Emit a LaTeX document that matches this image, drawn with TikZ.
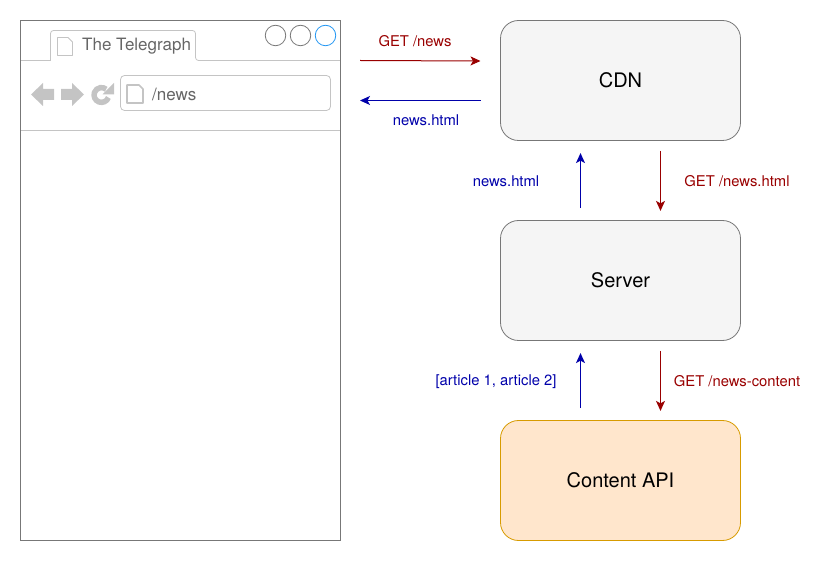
\documentclass[tikz,border=0pt]{standalone}
\usepackage{fontspec}
\setmainfont{TeX Gyre Heros}
\usetikzlibrary{arrows.meta}
\definecolor{boxgrey}{HTML}{F5F5F5}
\definecolor{boxline}{HTML}{777777}
\definecolor{orangefill}{HTML}{FFE6CC}
\definecolor{orangeline}{HTML}{D79B00}
\definecolor{uigrey}{HTML}{C4C4C4}
\definecolor{uitext}{HTML}{666666}
\definecolor{reqred}{HTML}{990000}
\definecolor{resblue}{HTML}{0000AA}
\definecolor{tabblue}{HTML}{2196F3}
\tikzset{
  x=1pt,y=-1pt,
  server/.style={draw=boxline,fill=boxgrey,rounded corners=18pt,minimum width=240pt,minimum height=120pt,inner sep=0pt,line width=0.8pt,font=\fontsize{20}{24}\selectfont,text=black},
  api/.style={server,draw=orangeline,fill=orangefill},
  req/.style={draw=reqred,line width=1pt,-{Stealth[length=10pt,width=9pt,inset=2.5pt]}},
  res/.style={draw=resblue,line width=1pt,-{Stealth[length=10pt,width=9pt,inset=2.5pt]}},
  reqlabel/.style={text=reqred,font=\fontsize{14.8}{17}\selectfont,inner sep=0pt},
  reslabel/.style={text=resblue,font=\fontsize{14.8}{17}\selectfont,inner sep=0pt},
  uilabel/.style={text=uitext,font=\fontsize{17}{20}\selectfont,inner sep=0pt,anchor=west},
  uiline/.style={draw=uigrey,line width=0.8pt},
  uiicon/.style={fill=uigrey,draw=none},
  winbtn/.style={circle,draw=boxline,minimum size=20.5pt,inner sep=0pt,line width=0.8pt,fill=white},
  pageicon/.style={draw=uigrey,line width=0.8pt,fill=white,line join=round},
}
\begin{document}
\begin{tikzpicture}
\useasboundingbox (0,0) rectangle (828,561);
% browser
\draw[uiline] (20.5,60.5) -- (50.5,60.5) -- (50.5,35) [rounded corners=3pt] -- (50.5,30.5) -- (195.5,30.5) -- (195.5,60.5) [sharp corners] -- (340.5,60.5);
\draw[uiline] (20.5,130.5) -- (340.5,130.5);
\node[draw=boxline,line width=0.8pt,minimum width=320pt,minimum height=520pt,inner sep=0pt] (window) at (180.5,280.5) {};
\draw[pageicon] (57.5,37.5) -- (68,37.5) -- (72.5,42) -- (72.5,55.5) -- (57.5,55.5) -- cycle;
\node[uilabel] (title) at (82,46.5) {The Telegraph};
\node[winbtn] (btnA) at (275.5,35.5) {};
\node[winbtn] (btnB) at (300.5,35.5) {};
\node[winbtn,draw=tabblue] (btnC) at (325.5,35.5) {};
% toolbar
\fill[uiicon] (31,94.5) -- (43,83) -- (43,89) -- (54,89) -- (54,100) -- (43,100) -- (43,106) -- cycle;
\fill[uiicon] (84,94.5) -- (72,83) -- (72,89) -- (61,89) -- (61,100) -- (72,100) -- (72,106) -- cycle;
\draw[uigrey,line width=5.5pt] (108.4,97.5) arc[start angle=-20,end angle=-310,radius=7.4pt];
\fill[uiicon] (114,83) -- (114,94.5) -- (102.5,94.5) -- cycle;
\node[draw=uigrey,line width=0.8pt,rounded corners=4pt,minimum width=210pt,minimum height=35pt,inner sep=0pt,fill=white] (urlbar) at (225.5,93) {};
\draw[pageicon,line width=1.6pt] (127,85) -- (139,85) -- (143,89) -- (143,103) -- (127,103) -- cycle;
\node[uilabel] (url) at (152,94.5) {/news};
% servers
\node[server] (cdn) at (620.5,80.5) {CDN};
\node[server] (srv) at (620.5,280.5) {Server};
\node[api] (capi) at (620.5,480.5) {Content API};
% connector ends
\coordinate (b1) at (360,60.5);
\coordinate (c1) at (480.5,61);
\coordinate (c2) at (480.5,100.5);
\coordinate (b2) at (360,100.5);
\draw[req] (b1) -- (c1);
\draw[res] (c2) -- (b2);
\draw[res] (srv.north -| 580.5,0) ++(0,-12) -- ++(0,-55);
\draw[req] (cdn.south -| 660.5,0) ++(0,10) -- ++(0,60);
\draw[res] (capi.north -| 580.5,0) ++(0,-12) -- ++(0,-55);
\draw[req] (srv.south -| 660.5,0) ++(0,10) -- ++(0,60);
% labels
\node[reqlabel] (l1) at (415,41) {GET /news};
\node[reslabel] (l2) at (426,120) {news.html};
\node[reslabel] (l3) at (506,181) {news.html};
\node[reqlabel] (l4) at (737,181) {GET /news.html};
\node[reslabel] (l5) at (496,382) {[article 1, article 2]};
\node[reqlabel] (l6) at (737,381) {GET /news-content};
\end{tikzpicture}
\end{document}
